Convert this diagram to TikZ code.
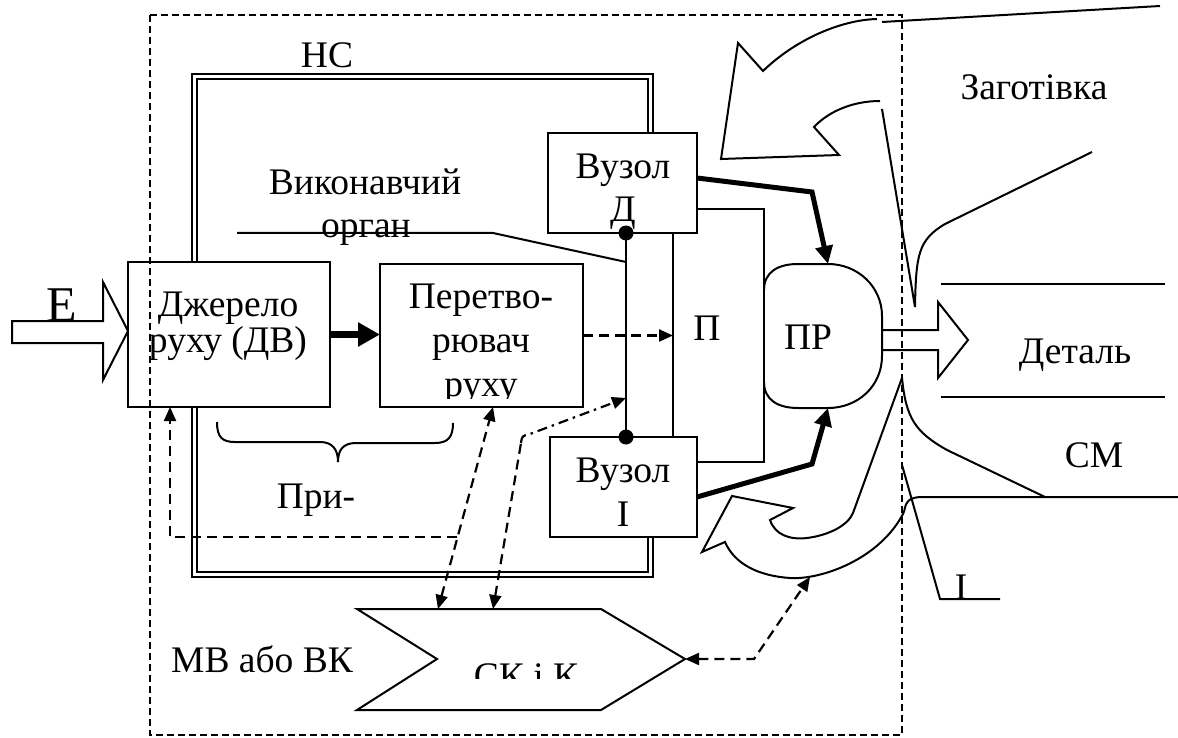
\documentclass[tikz,border=0pt]{standalone}
\usepackage{fontspec}
\setmainfont{Liberation Serif}
\usetikzlibrary{arrows.meta}
\begin{document}
\begin{tikzpicture}[x=1pt,y=-1pt,
  lbl/.style={inner sep=0pt, anchor=base, font=\fontsize{37.5}{40}\selectfont},
  blk/.style={draw, fill=white, line width=2pt, inner sep=0pt, outer sep=0pt, anchor=north west},
  ln/.style={line width=2pt},
  thickarrow/.style={line width=5pt, -{Triangle[length=18pt,width=17pt]}},
  dsh/.style={line width=2.2pt, dash pattern=on 10pt off 6pt},
  dshdot/.style={line width=2.2pt, dash pattern=on 10pt off 5pt on 2.5pt off 5pt},
  tipend/.style={-{Triangle[length=14pt,width=12pt]}},
  tipstart/.style={{Triangle[length=14pt,width=12pt]}-},
  tipboth/.style={{Triangle[length=14pt,width=12pt]}-{Triangle[length=14pt,width=12pt]}},
]
\useasboundingbox (0,0) rectangle (1178,738);

% NS frame (double line)
\draw[double, double distance=3.2pt, line width=1.9pt]
  (650.5,133) -- (650.5,76.5) -- (194.5,76.5) -- (194.5,574.5) -- (650.5,574.5) -- (650.5,537);
\node[lbl] (ns) at (327,68) {НС};

% P frame
\node[draw, ln, inner sep=0pt, outer sep=0pt, anchor=north west, minimum width=91pt, minimum height=253pt] (P) at (673,209) {};
\node[lbl] (plbl) at (707,340) {П};

% executive organ pointer
\coordinate (or1) at (237,233);
\coordinate (or2) at (493,233);
\coordinate (or3) at (626,262);
\draw[ln] (or1) -- (or2) -- (or3);
\node[lbl] (vyk) at (365,195) {Виконавчий};
\node[lbl] (org) at (366,238) {орган};

% boxes
\node[blk, minimum width=202pt, minimum height=145pt] (src) at (128,262) {};
\node[blk, minimum width=203pt, minimum height=143pt] (conv) at (380,264) {};
\node[blk, minimum width=149pt, minimum height=100pt] (vd) at (548,133) {};
\node[blk, minimum width=147pt, minimum height=100pt] (vi) at (550,437) {};

\node[lbl] (src1) at (228,316) {Джерело};
\node[lbl] (src2) at (228,352) {руху (ДВ)};
\node[lbl] (conv1) at (481,308) {Перетво-};
\node[lbl] (conv2) at (481,352) {рювач};
\begin{scope}
  \clip (380,360) rectangle (583,398);
  \node[lbl] (conv3) at (481,396) {руху};
\end{scope}
\node[lbl] (vd1) at (623,179) {Вузол};
\node[lbl] (vd2) at (623,222) {Д};
\node[lbl] (vi1) at (623,482) {Вузол};
\node[lbl] (vi2) at (623,526) {I};

% shaft between the units
\coordinate (dotT) at (626,233);
\coordinate (dotB) at (626,437);
\draw[line width=2.6pt] (dotT) -- (dotB);
\fill (dotT) circle (7.5pt);
\fill (dotB) circle (7.5pt);

% PR
\draw[ln] (764,290) .. controls (764,272) and (778,264) .. (798,264) -- (828,264)
  .. controls (858,264) and (882,287) .. (882,316) -- (882,356)
  .. controls (882,386) and (858,408) .. (828,408) -- (798,408)
  .. controls (778,408) and (764,400) .. (764,382);
\node[lbl] (pr) at (808,349) {ПР};
\coordinate (prT) at (828,264);
\coordinate (prB) at (828,408);

% output block arrow
\draw[ln] (882,330) -- (938,330) -- (938,302) -- (968,340) -- (938,378) -- (938,350) -- (882,350);
\draw[ln] (941,284) -- (1165,284);
\draw[ln] (941,397) -- (1165,397);
\node[lbl] (det) at (1075,363) {Деталь};

% input block arrow E
\draw[ln] (12,321) -- (103,321) -- (103,282) -- (128,331) -- (103,380) -- (103,343) -- (12,343) -- cycle;
\node[inner sep=0pt, anchor=base, font=\fontsize{50}{54}\selectfont] (E) at (62,321) {Е};

% thick arrows
\draw[line width=7pt, -{Triangle[length=22pt,width=23pt]}] (src.east) -- (conv.west |- src.east);
\coordinate (vdo) at (697,178);
\coordinate (vdk) at (812,192);
\draw[thickarrow] (vdo) -- (vdk) -- (prT);
\coordinate (vio) at (697,497);
\coordinate (vik) at (812,464);
\draw[thickarrow] (vio) -- (vik) -- (prB);

% dashed connectors
\draw[dsh, tipend] (conv.east) -- (P.west);
\coordinate (ck1) at (438,609);
\coordinate (cv1) at (493,407);
\draw[dsh, tipboth] (ck1) -- (cv1);
\coordinate (fb0) at (457,537);
\coordinate (fb1) at (170,537);
\coordinate (fb2) at (170,407);
\draw[dsh, tipend] (fb0) -- (fb1) -- (fb2);
\coordinate (ck2) at (493,609);
\coordinate (kn) at (521,443);
\coordinate (sh) at (626,398);
\draw[dsh, tipstart] (ck2) -- (kn);
\draw[dshdot, tipend] (kn) .. controls (522,436) .. (530,434) -- (sh);

% brace
\draw[ln] (217,422) .. controls (217,437) and (222,442) .. (235,442) -- (320,442)
  .. controls (333,442) and (338,450) .. (338,462)
  .. controls (338,450) and (343,443) .. (356,443) -- (435,443)
  .. controls (448,443) and (453,437) .. (453,423);
\node[lbl] (pry) at (316,508) {При-};

% SK i K
\draw[ln] (357,609) -- (601,609) -- (685,659) -- (601,710) -- (357,710) -- (437,659) -- cycle;
\coordinate (ckT) at (685,659);
\begin{scope}
  \clip (357,600) rectangle (690,678);
  \node[lbl] (ck) at (526,688) {СК і К};
\end{scope}
\node[lbl] (mv) at (262,672) {МВ або ВК};

% workpiece feed (top right)
\draw[ln] (882,22) -- (1160,6);
\draw[ln] (877,19) .. controls (840,20) and (795,40) .. (763,71) -- (738,43) -- (721,159)
  -- (839,155) -- (814,127) .. controls (830,110) and (855,101) .. (880,101);
\draw[ln] (882,109) -- (915,307) .. controls (916,255) and (918,240) .. (945,224) -- (1092,152);
\node[lbl] (zag) at (1034,100) {Заготівка};

% removal (bottom right)
\draw[ln] (902,378) .. controls (906,418) and (915,432) .. (947,450) -- (1045,497);
\draw[ln] (904,512) .. controls (906,500) and (910,498) .. (920,497) -- (1178,497);
\draw[ln] (902,378) -- (853,513) .. controls (848,525) and (830,535) .. (807,538)
  .. controls (790,540) and (775,535) .. (770,520) -- (793,508) -- (732,496) -- (702,552)
  -- (725,542) .. controls (735,565) and (760,576) .. (790,578)
  .. controls (820,580) and (880,560) .. (904,512);
\coordinate (arcP) at (810,577);
\coordinate (bk) at (754,659);
\draw[dsh, tipboth] (ckT) -- (bk) -- (arcP);
\node[lbl] (cm) at (1094,467) {СМ};

% I pointer
\draw[ln] (902,465) -- (940,599) -- (1000,599);
\node[lbl] (il) at (961,599) {I};

% outer dashed boundary
\draw[line width=1.5pt, dash pattern=on 7pt off 4pt] (150,15) rectangle (902,735);
\end{tikzpicture}
\end{document}
